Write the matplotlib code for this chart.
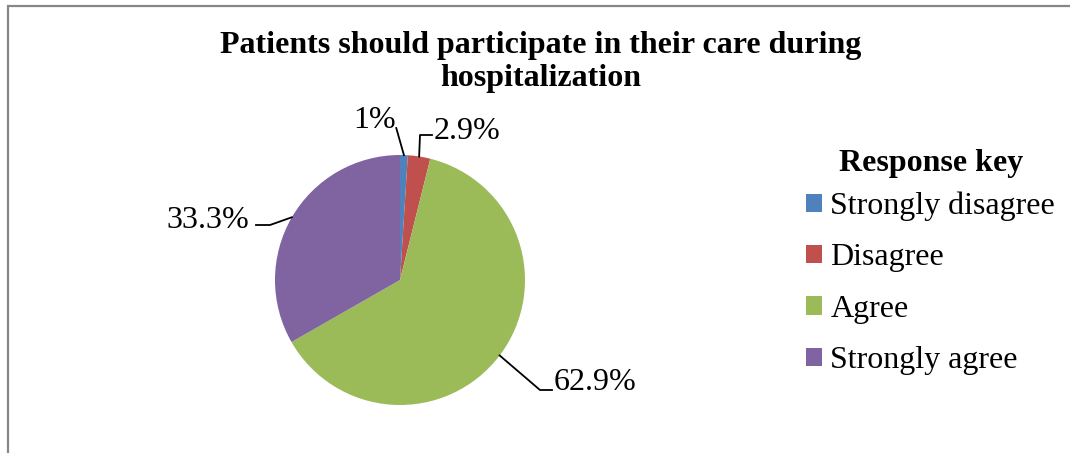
import numpy as np
import matplotlib
matplotlib.use('Agg')
import matplotlib.pyplot as plt
from matplotlib.patches import Rectangle

# data
categories = ['Strongly disagree', 'Disagree', 'Agree', 'Strongly agree']
values = [1, 2.9, 62.9, 33.3]
labels = ['1%', '2.9%', '62.9%', '33.3%']
colors = ['#4f81bd', '#c0504d', '#9bbb59', '#8064a2']
title = 'Patients should participate in their care during\nhospitalization'

plt.rcParams['font.family'] = ['Liberation Serif', 'DejaVu Serif']

W, H = 1070, 453
fig = plt.figure(figsize=(W / 100, H / 100), dpi=100)

# frame: only top and left edges are visible in the reference
fig.add_artist(Rectangle((8 / W, -0.1), 1.2, 1 - 6 / H + 0.1, transform=fig.transFigure,
                         fill=False, edgecolor='#878787', linewidth=1.6))

# pie axes: center (400, 280) px, radius 125 px
r_px = 125
cx, cy = 400, 280
ax = fig.add_axes([(cx - 2 * r_px) / W, (H - cy - 2 * r_px) / H, 4 * r_px / W, 4 * r_px / H])

wedges, _ = ax.pie(values, colors=colors, startangle=90, counterclock=False,
                   radius=1, wedgeprops=dict(linewidth=0))
ax.set_xlim(-2, 2)
ax.set_ylim(-2, 2)
ax.set_aspect('equal')
ax.axis('off')

# leader lines and labels (layout offsets in pie-radius units)
label_layout = [
    # (elbow, end, text pos, ha)
    ((-0.03, 1.216), None, (-0.20, 1.28), 'center'),
    ((0.16, 1.16), (0.256, 1.16), (0.27, 1.19), 'left'),
    ((1.12, -0.88), (1.216, -0.88), (1.23, -0.82), 'left'),
    ((-1.04, 0.44), (-1.152, 0.44), (-1.21, 0.48), 'right'),
]
for w, lab, (elbow, end, tpos, ha) in zip(wedges, labels, label_layout):
    mid = np.deg2rad((w.theta1 + w.theta2) / 2)
    p0 = (np.cos(mid), np.sin(mid))
    xs = [p0[0], elbow[0]] + ([end[0]] if end else [])
    ys = [p0[1], elbow[1]] + ([end[1]] if end else [])
    ax.plot(xs, ys, color='black', linewidth=1.3, clip_on=False)
    ax.text(tpos[0], tpos[1], lab, ha=ha, va='center', fontsize=23, clip_on=False)

fig.text(541 / W, 1 - 62 / H, title, ha='center', va='center', fontsize=23,
         fontweight='bold', linespacing=1.15)

leg = fig.legend(wedges, categories, loc='upper left', bbox_to_anchor=(784 / W, 1 - 127 / H),
                 frameon=False, fontsize=23, title='Response key',
                 title_fontproperties={'weight': 'bold', 'size': 23},
                 handlelength=0.5, handleheight=0.5, handletextpad=0.25,
                 labelspacing=0.7, borderpad=0.2)
# tighter gap between legend title and first entry
leg._legend_box.sep = 9.5

fig.savefig('out.png', dpi=100, facecolor='white')
